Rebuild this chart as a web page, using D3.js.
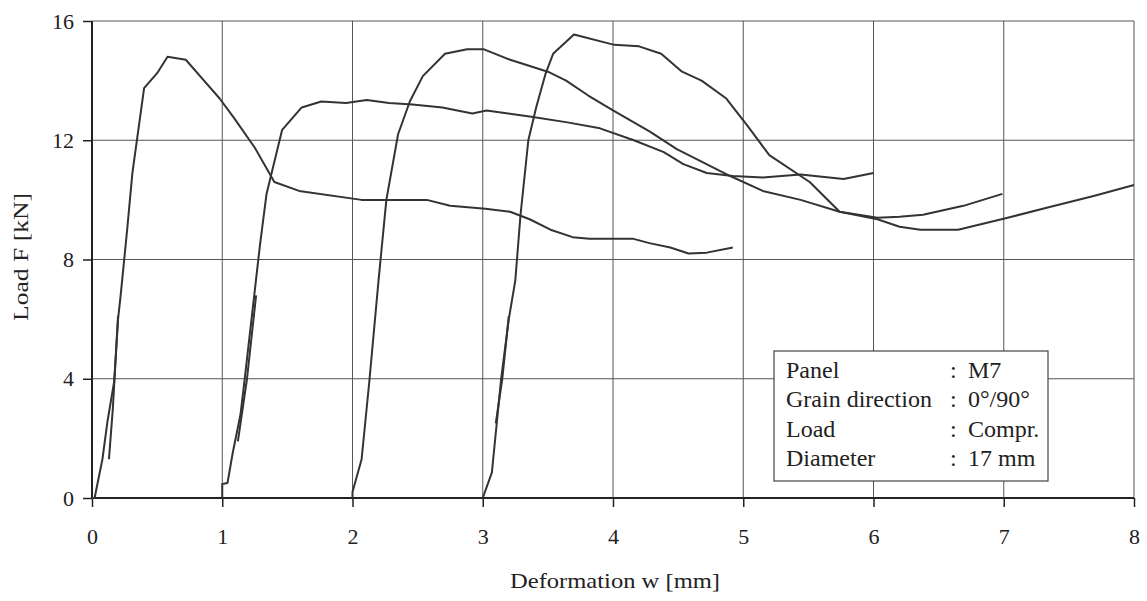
<!DOCTYPE html>
<html>
<head>
<meta charset="utf-8">
<script src="https://cdn.jsdelivr.net/npm/d3@7"></script>
<style>
  body { margin: 0; background: #fff; }
  svg { display: block; }
  text { font-family: "Liberation Serif", "DejaVu Serif", serif; fill: #222; }
</style>
</head>
<body>
<div id="chart"></div>
<script>
// load-deformation curves, four tests shifted by 1 mm each
var test1 = [[0.0, 0], [0.02, 0], [0.08, 1.3], [0.12, 2.6], [0.17, 3.9], [0.2, 6.0], [0.22, 6.8],
  [0.27, 9.0], [0.31, 10.9], [0.4, 13.75], [0.5, 14.25], [0.58, 14.8], [0.72, 14.7], [0.86, 14.0],
  [0.98, 13.4], [1.09, 12.75], [1.25, 11.75], [1.4, 10.6], [1.59, 10.3], [2.07, 10.0], [2.36, 10.0],
  [2.57, 10.0], [2.75, 9.8], [3.02, 9.7], [3.21, 9.6], [3.36, 9.35], [3.52, 9.0], [3.69, 8.75],
  [3.82, 8.7], [4.15, 8.7], [4.28, 8.55], [4.44, 8.4], [4.58, 8.2], [4.72, 8.23], [4.92, 8.4]];
var test1Unload = [[0.13, 1.3], [0.16, 3.0], [0.2, 6.1]];

var test2 = [[1.0, 0], [1.0, 0.47], [1.04, 0.5], [1.08, 1.5], [1.14, 2.8], [1.17, 3.9], [1.23, 6.2],
  [1.29, 8.5], [1.34, 10.2], [1.46, 12.35], [1.61, 13.1], [1.76, 13.3], [1.95, 13.25], [2.11, 13.35],
  [2.28, 13.25], [2.46, 13.2], [2.69, 13.1], [2.92, 12.9], [3.03, 13.0], [3.36, 12.8], [3.65, 12.6],
  [3.9, 12.4], [4.16, 12.0], [4.39, 11.6], [4.54, 11.2], [4.72, 10.9], [4.92, 10.8], [5.15, 10.75],
  [5.44, 10.85], [5.77, 10.7], [6.0, 10.9]];
var test2Unload = [[1.12, 1.9], [1.19, 4.0], [1.26, 6.8]];

var test3 = [[2.0, 0], [2.0, 0.2], [2.07, 1.3], [2.13, 3.95], [2.2, 7.3], [2.26, 10.0], [2.35, 12.2],
  [2.44, 13.3], [2.54, 14.15], [2.71, 14.9], [2.88, 15.05], [3.01, 15.05], [3.21, 14.7], [3.5, 14.3],
  [3.64, 14.0], [3.81, 13.5], [4.0, 13.0], [4.28, 12.3], [4.49, 11.7], [4.9, 10.8], [5.15, 10.3],
  [5.44, 10.0], [5.74, 9.6], [6.03, 9.35], [6.2, 9.1], [6.36, 9.0], [6.65, 9.0], [7.03, 9.4],
  [7.36, 9.77], [7.69, 10.13], [8.0, 10.5]];

var test4 = [[3.0, 0], [3.07, 0.85], [3.14, 3.95], [3.2, 6.0], [3.25, 7.3], [3.29, 9.5], [3.35, 12.0],
  [3.41, 13.1], [3.48, 14.2], [3.54, 14.9], [3.7, 15.55], [4.01, 15.2], [4.2, 15.15], [4.37, 14.9],
  [4.53, 14.3], [4.68, 14.0], [4.87, 13.4], [5.03, 12.5], [5.2, 11.5], [5.51, 10.6], [5.74, 9.6],
  [6.03, 9.4], [6.2, 9.43], [6.38, 9.5], [6.69, 9.8], [6.99, 10.2]];
var test4Unload = [[3.1, 2.5], [3.15, 4.0], [3.2, 6.1]];

var xTicks = [0, 1, 2, 3, 4, 5, 6, 7, 8];
var yTicks = [0, 4, 8, 12, 16];
var legendLabels = ['Panel', 'Grain direction', 'Load', 'Diameter'];
var legendValues = ['M7', '0°/90°', 'Compr.', '17 mm'];

(function () {
  var width = 1147;
  var height = 601;
  var margin = {left: 92, right: 13, top: 21, bottom: 103};

  var svg = d3.select('#chart').append('svg')
      .attr('width', width)
      .attr('height', height);

  var x = d3.scaleLinear().domain([0, 8]).range([margin.left, width - margin.right]);
  var y = d3.scaleLinear().domain([0, 16]).range([height - margin.bottom, margin.top]);

  // grid
  svg.append('g').selectAll('line.vgrid').data(xTicks.slice(1)).enter().append('line')
      .attr('class', 'vgrid')
      .attr('x1', x).attr('x2', x)
      .attr('y1', y(0)).attr('y2', y(16))
      .attr('stroke', '#555')
      .attr('stroke-width', 1);

  svg.append('g').selectAll('line.hgrid').data(yTicks.slice(1)).enter().append('line')
      .attr('class', 'hgrid')
      .attr('x1', x(0)).attr('x2', x(8))
      .attr('y1', y).attr('y2', y)
      .attr('stroke', '#555')
      .attr('stroke-width', 1);

  // axes
  var xAxis = d3.axisBottom(x).tickValues(xTicks).tickSize(9).tickPadding(21).tickFormat(d3.format('d'));
  var yAxis = d3.axisLeft(y).tickValues(yTicks).tickSize(9).tickPadding(9).tickFormat(d3.format('d'));

  var gx = svg.append('g').attr('transform', 'translate(0,' + y(0) + ')').call(xAxis);
  var gy = svg.append('g').attr('transform', 'translate(' + x(0) + ',0)').call(yAxis);

  [gx, gy].forEach(function (g) {
    g.select('.domain').attr('stroke', '#222').attr('stroke-width', 2);
    g.selectAll('.tick line').attr('stroke', '#222').attr('stroke-width', 1.5);
    g.selectAll('.tick text')
        .style('font-family', '"Liberation Serif", serif')
        .style('font-size', '22px')
        .attr('fill', '#222');
  });
  gy.select('.domain').attr('d', 'M0,' + y(0) + 'V' + y(16));
  gx.select('.domain').attr('d', 'M' + x(0) + ',0H' + x(8));

  // curves
  var line = d3.line()
      .x(function (d) { return x(d[0]); })
      .y(function (d) { return y(d[1]); });

  var curves = [test1, test1Unload, test2, test2Unload, test3, test4, test4Unload];
  svg.append('g').selectAll('path.curve').data(curves).enter().append('path')
      .attr('class', 'curve')
      .attr('d', line)
      .attr('fill', 'none')
      .attr('stroke', '#333')
      .attr('stroke-width', 2)
      .attr('stroke-linejoin', 'round');

  // axis titles
  svg.append('text')
      .attr('x', (x(0) + x(8)) / 2 + 2)
      .attr('y', 588)
      .attr('text-anchor', 'middle')
      .attr('textLength', 210)
      .attr('lengthAdjust', 'spacingAndGlyphs')
      .style('font-size', '22px')
      .text('Deformation w [mm]');

  svg.append('text')
      .attr('transform', 'translate(28,' + 257 + ') rotate(-90)')
      .attr('text-anchor', 'middle')
      .attr('textLength', 128)
      .attr('lengthAdjust', 'spacingAndGlyphs')
      .style('font-size', '22px')
      .text('Load F [kN]');

  // info box
  var box = svg.append('g').attr('transform', 'translate(774,351)');
  box.append('rect')
      .attr('width', 274)
      .attr('height', 130)
      .attr('fill', '#fff')
      .attr('stroke', '#444')
      .attr('stroke-width', 1.2);

  var rows = box.selectAll('g.row').data(legendLabels).enter().append('g')
      .attr('class', 'row')
      .attr('transform', function (d, i) { return 'translate(0,' + (27 + i * 29.3) + ')'; });

  rows.append('text')
      .attr('x', 12)
      .style('font-size', '24px')
      .text(function (d) { return d; });
  rows.append('text')
      .attr('x', 176)
      .style('font-size', '24px')
      .text(':');
  rows.append('text')
      .attr('x', 194)
      .style('font-size', '24px')
      .text(function (d, i) { return legendValues[i]; });
})();
</script>
</body>
</html>
